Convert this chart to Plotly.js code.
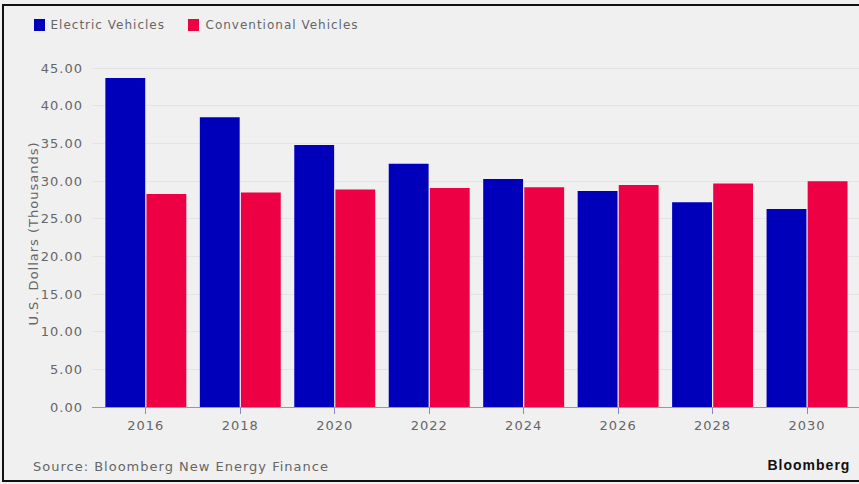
<!DOCTYPE html>
<html><head><meta charset="utf-8">
<script src="https://cdn.plot.ly/plotly-3.0.1.min.js"></script>
<style>
html,body{margin:0;padding:0;background:#fff;}
#wrap{position:relative;width:859px;height:484px;overflow:hidden;}
#chart{position:absolute;left:0;top:0;width:859px;height:484px;}
#chart text{letter-spacing:1px;}
#frame{position:absolute;left:2px;top:4px;width:870px;height:474px;border:2px solid #111;pointer-events:none;}
</style></head>
<body>
<div id="wrap"><div id="chart"></div><div id="frame"></div></div>
<script>
const years = ['2016','2018','2020','2022','2024','2026','2028','2030'];
const electric = [43.7, 38.5, 34.8, 32.3, 30.3, 28.7, 27.2, 26.3];
const conventional = [28.3, 28.5, 28.9, 29.1, 29.2, 29.5, 29.7, 30.0];
const seriesNames = ['Electric Vehicles', 'Conventional Vehicles'];
const seriesColors = ['#0000bb', '#ee0044'];
const yTicks = [0,5,10,15,20,25,30,35,40,45];
const sourceText = 'Source: Bloomberg New Energy Finance';
const brandText = 'Bloomberg';

const L = 92, T = 60, B = 77, W = 859, H = 484;
const PW = W - L, PH = H - T - B;
const px = v => (v - L) / PW;
const py = v => (H - B - v) / PH;
// letter-spacing (1px per char) widens text around its centre; shift left-anchored labels back
const lx = (v, s) => px(v + s.length / 2);

const traces = seriesNames.map((n, i) => ({
  type:'bar', name:n, x:years, y:[electric, conventional][i], marker:{color:seriesColors[i]}
}));

const legendItems = [{sq:34, tx:48}, {sq:188, tx:203}];
const shapes = legendItems.map((it, i) => ({
  type:'rect', xref:'paper', yref:'paper', x0:px(it.sq), x1:px(it.sq+11), y0:py(31), y1:py(19),
  fillcolor:seriesColors[i], line:{width:0}
}));
const legendText = legendItems.map((it, i) => ({
  text:seriesNames[i], xref:'paper', yref:'paper', x:lx(it.tx, seriesNames[i]), y:py(25),
  xanchor:'left', yanchor:'middle', showarrow:false, font:{size:12, color:'#666'}
}));

const layout = {
  width:W, height:H,
  paper_bgcolor:'#f0f0f0', plot_bgcolor:'#f0f0f0',
  margin:{l:L, r:0, t:T, b:B},
  barmode:'group', bargap:0.13, bargroupgap:0.03,
  font:{family:'DejaVu Sans, sans-serif', size:13, color:'#666'},
  showlegend:false,
  xaxis:{type:'category', range:[-0.57, 7.55], showgrid:false, showline:true, linecolor:'#999', linewidth:1,
         ticks:'outside', ticklen:6, tickcolor:'#8888cc', tickfont:{size:13, color:'#666'}, zeroline:false},
  yaxis:{range:[0, 46.1], tickvals:yTicks, ticktext:yTicks.map(v=>v.toFixed(2)), showgrid:true,
         gridcolor:'#e4e4e4', zeroline:false, showline:false, ticks:'', ticklabelstandoff:8,
         tickfont:{size:13, color:'#666'},
         title:{text:'U.S. Dollars (Thousands)', font:{size:13, color:'#666'}, standoff:4}},
  shapes:shapes,
  annotations:legendText.concat([
    {text:sourceText, xref:'paper', yref:'paper', x:lx(31, sourceText), y:py(466),
     xanchor:'left', yanchor:'middle', showarrow:false, font:{size:13, color:'#666'}},
    {text:'<b>' + brandText + '</b>', xref:'paper', yref:'paper', x:lx(765, brandText), y:py(465),
     xanchor:'left', yanchor:'middle', showarrow:false,
     font:{family:'Liberation Sans, Arial, sans-serif', size:14, color:'#111'}}
  ])
};
Plotly.newPlot('chart', traces, layout, {displayModeBar:false});
</script>
</body></html>
